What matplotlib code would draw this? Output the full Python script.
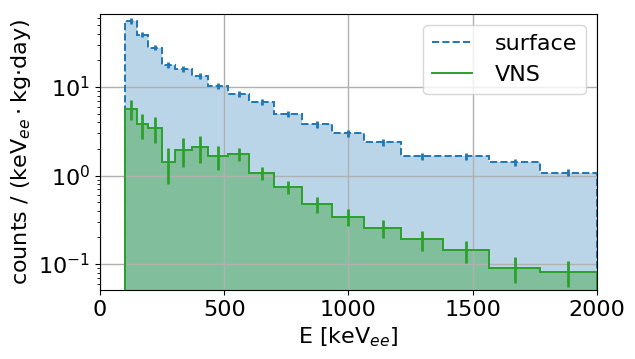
import numpy as np
import matplotlib
matplotlib.use('Agg')
import matplotlib.pyplot as plt

# bin edges in keVee
edges = [100, 148, 194, 248, 302, 369, 436, 517, 601, 702, 812, 933,
         1064, 1211, 1380, 1567, 1771, 2000]

# rates (counts / keVee / kg / day)
surface = [56.0, 39.0, 28.0, 17.9, 16.0, 13.4, 10.2, 8.3, 6.8, 5.0, 3.8,
           3.0, 2.39, 1.66, 1.66, 1.42, 1.08]
surface_err = [4.0, 2.6, 1.9, 1.3, 1.2, 1.0, 0.8, 0.65, 0.55, 0.42, 0.33,
               0.27, 0.21, 0.15, 0.15, 0.13, 0.10]

vns = [5.72, 3.82, 3.44, 1.42, 1.94, 2.10, 1.67, 1.75, 1.07, 0.74, 0.48,
       0.34, 0.255, 0.19, 0.144, 0.090, 0.081]
vns_err = [1.46, 1.20, 1.12, 0.62, 0.70, 0.71, 0.50, 0.29, 0.18, 0.12,
           0.098, 0.074, 0.059, 0.048, 0.040, 0.029, 0.026]

plt.rcParams['font.size'] = 16

edges = np.array(edges)
centers = 0.5 * (edges[1:] + edges[:-1])

fig = plt.figure(figsize=(6.35, 3.59), dpi=100)
ax = fig.add_axes([0.1575, 0.192, 0.7825, 0.769])

ax.grid(True, color='#b0b0b0', linewidth=1)
ax.set_axisbelow('line')

# fondo relleno
ax.stairs(surface, edges, baseline=1e-3, fill=True, color='C0', alpha=0.3, zorder=1)
ax.stairs(vns, edges, baseline=1e-3, fill=True, color='C2', alpha=0.4, zorder=1)

# lineas de los histogramas
ax.stairs(surface, edges, baseline=1e-3, color='C0', linestyle='--',
          linewidth=1.4, label='surface', zorder=2)
ax.stairs(vns, edges, baseline=1e-3, color='C2', linewidth=1.4, label='VNS', zorder=2)

ax.errorbar(centers, surface, yerr=surface_err, fmt='none', ecolor='C0', elinewidth=2, zorder=3)
ax.errorbar(centers, vns, yerr=vns_err, fmt='none', ecolor='C2', elinewidth=2, zorder=3)

ax.set_yscale('log')
ax.set_xlim(0, 2000)
ax.set_ylim(0.0508, 67)
ax.set_xticks([0, 500, 1000, 1500, 2000])

ax.set_xlabel('E [keV$_{ee}$]')
ax.set_ylabel('counts / (keV$_{ee}\\cdot$kg·day)')
ax.legend(loc='upper right', handlelength=1.8, handletextpad=1.0)

fig.savefig('out.png', dpi=100)
